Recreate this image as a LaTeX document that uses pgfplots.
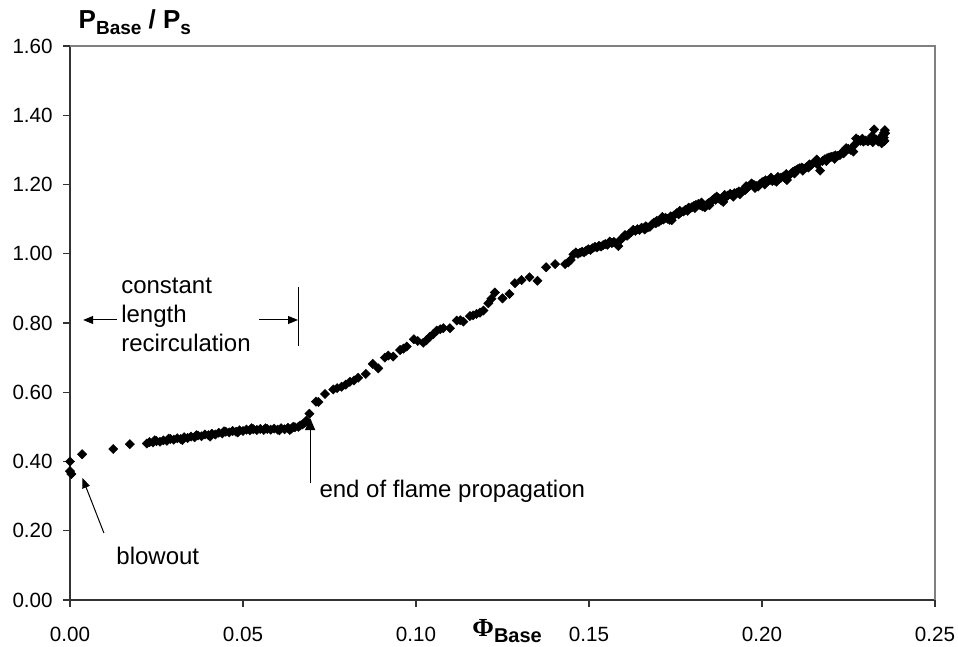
\documentclass[border=0pt]{standalone}
\usepackage{pgfplots}
\pgfplotsset{compat=1.18}
\usepackage{fontspec}
\setmainfont{Liberation Sans}
\newfontfamily\phifont{Liberation Serif}
\usetikzlibrary{arrows.meta}

\pgfplotstableread{
x y
0.0000 0.400
0.0000 0.372
0.0004 0.364
0.0035 0.421
0.0125 0.436
0.0173 0.450
0.0222 0.452
0.0230 0.456
0.0240 0.455
0.0245 0.461
0.0250 0.459
0.0260 0.457
0.0270 0.461
0.0280 0.460
0.0285 0.466
0.0290 0.465
0.0300 0.463
0.0310 0.467
0.0320 0.465
0.0325 0.462
0.0330 0.470
0.0340 0.468
0.0350 0.472
0.0360 0.470
0.0365 0.476
0.0370 0.475
0.0380 0.473
0.0390 0.478
0.0400 0.476
0.0405 0.472
0.0410 0.480
0.0420 0.478
0.0430 0.483
0.0440 0.481
0.0445 0.487
0.0450 0.486
0.0460 0.484
0.0470 0.488
0.0480 0.486
0.0485 0.484
0.0490 0.490
0.0500 0.488
0.0510 0.492
0.0520 0.490
0.0525 0.496
0.0530 0.493
0.0540 0.491
0.0550 0.494
0.0560 0.491
0.0565 0.496
0.0570 0.494
0.0580 0.492
0.0590 0.495
0.0600 0.492
0.0605 0.490
0.0610 0.496
0.0620 0.493
0.0630 0.497
0.0635 0.491
0.0640 0.495
0.0645 0.500
0.0650 0.499
0.0660 0.500
0.0665 0.504
0.0672 0.507
0.0678 0.512
0.0683 0.518
0.0692 0.538
0.0711 0.573
0.0718 0.572
0.0737 0.595
0.0761 0.608
0.0772 0.612
0.0785 0.616
0.0797 0.622
0.0809 0.630
0.0821 0.634
0.0833 0.642
0.0855 0.653
0.0875 0.682
0.0891 0.669
0.0910 0.700
0.0920 0.706
0.0934 0.703
0.0954 0.722
0.0964 0.726
0.0973 0.732
0.0994 0.753
0.1005 0.748
0.1021 0.743
0.1030 0.750
0.1040 0.760
0.1050 0.768
0.1060 0.778
0.1070 0.782
0.1079 0.785
0.1098 0.785
0.1118 0.807
0.1128 0.808
0.1137 0.804
0.1156 0.820
0.1165 0.822
0.1175 0.826
0.1185 0.830
0.1195 0.836
0.1209 0.857
0.1218 0.870
0.1228 0.888
0.1250 0.871
0.1270 0.884
0.1286 0.915
0.1305 0.924
0.1328 0.932
0.1351 0.922
0.1376 0.961
0.1402 0.970
0.1431 0.970
0.1440 0.975
0.1447 0.982
0.1455 0.998
0.1462 1.004
0.1468 1.000
0.1474 1.003
0.1480 1.006
0.1486 1.004
0.1492 1.009
0.1498 1.013
0.1504 1.011
0.1510 1.016
0.1517 1.020
0.1523 1.018
0.1529 1.023
0.1535 1.021
0.1541 1.025
0.1547 1.028
0.1553 1.026
0.1560 1.035
0.1566 1.031
0.1572 1.034
0.1578 1.030
0.1585 1.022
0.1591 1.040
0.1597 1.046
0.1604 1.054
0.1610 1.052
0.1616 1.058
0.1622 1.062
0.1628 1.069
0.1634 1.066
0.1640 1.071
0.1646 1.069
0.1652 1.075
0.1658 1.073
0.1661 1.070
0.1664 1.079
0.1670 1.076
0.1676 1.078
0.1682 1.085
0.1688 1.090
0.1693 1.088
0.1696 1.095
0.1702 1.092
0.1708 1.097
0.1712 1.106
0.1715 1.099
0.1721 1.104
0.1727 1.101
0.1733 1.098
0.1736 1.108
0.1739 1.097
0.1745 1.110
0.1753 1.117
0.1759 1.114
0.1762 1.124
0.1765 1.119
0.1773 1.122
0.1779 1.127
0.1785 1.124
0.1788 1.133
0.1791 1.131
0.1797 1.134
0.1803 1.138
0.1806 1.132
0.1809 1.141
0.1816 1.144
0.1822 1.140
0.1825 1.148
0.1828 1.137
0.1835 1.134
0.1840 1.142
0.1845 1.146
0.1848 1.140
0.1851 1.150
0.1857 1.155
0.1863 1.160
0.1866 1.156
0.1869 1.165
0.1875 1.160
0.1882 1.154
0.1888 1.150
0.1892 1.170
0.1894 1.162
0.1901 1.168
0.1908 1.173
0.1914 1.170
0.1917 1.165
0.1920 1.175
0.1927 1.176
0.1933 1.180
0.1936 1.172
0.1939 1.178
0.1945 1.183
0.1951 1.184
0.1954 1.195
0.1957 1.190
0.1964 1.196
0.1970 1.203
0.1976 1.199
0.1980 1.190
0.1983 1.196
0.1989 1.194
0.1995 1.202
0.2000 1.206
0.2004 1.208
0.2008 1.200
0.2010 1.212
0.2017 1.210
0.2023 1.213
0.2026 1.220
0.2030 1.210
0.2036 1.212
0.2042 1.208
0.2046 1.222
0.2049 1.216
0.2055 1.220
0.2062 1.223
0.2067 1.218
0.2070 1.230
0.2072 1.213
0.2078 1.226
0.2084 1.232
0.2090 1.237
0.2094 1.232
0.2096 1.240
0.2103 1.244
0.2109 1.247
0.2115 1.249
0.2118 1.240
0.2121 1.246
0.2128 1.250
0.2134 1.249
0.2137 1.258
0.2140 1.255
0.2146 1.260
0.2153 1.266
0.2158 1.272
0.2160 1.258
0.2168 1.240
0.2175 1.268
0.2182 1.273
0.2186 1.268
0.2188 1.276
0.2194 1.278
0.2200 1.280
0.2206 1.281
0.2210 1.274
0.2212 1.284
0.2219 1.283
0.2225 1.285
0.2231 1.292
0.2236 1.290
0.2237 1.298
0.2243 1.305
0.2249 1.303
0.2256 1.300
0.2264 1.295
0.2268 1.315
0.2272 1.333
0.2278 1.329
0.2285 1.326
0.2290 1.332
0.2293 1.324
0.2300 1.327
0.2306 1.325
0.2312 1.329
0.2318 1.340
0.2320 1.322
0.2324 1.359
0.2330 1.330
0.2336 1.324
0.2340 1.328
0.2344 1.336
0.2346 1.319
0.2350 1.343
0.2352 1.335
0.2353 1.350
0.2355 1.357
0.2356 1.348
0.2354 1.326
}\datatable

\begin{document}
\begin{tikzpicture}
\useasboundingbox (0,0) rectangle (479pt,323.5pt);
\begin{axis}[
  at={(35pt,23.5pt)}, anchor=south west,
  width=432.5pt, height=277pt, scale only axis,
  xmin=0, xmax=0.25, ymin=0, ymax=1.6,
  axis lines*=left,
  axis line style={black!80, line width=0.7pt},
  xtick={0,0.05,0.1,0.15,0.2,0.25},
  ytick={0,0.2,0.4,0.6,0.8,1.0,1.2,1.4,1.6},
  minor tick num=0,
  tick align=outside,
  major tick length=3.5pt,
  tick style={black!80, line width=0.7pt},
  scaled ticks=false,
  /pgf/number format/.cd, fixed, fixed zerofill, precision=2, assume math mode=true,
  /pgfplots/.cd,
  xticklabel style={font={\fontsize{10.3}{12}\selectfont}, inner sep=0pt, anchor=north, yshift=-10pt},
  yticklabel style={font={\fontsize{10.3}{12}\selectfont}, inner sep=0pt, anchor=east, xshift=-5pt},
  clip=false,
]
\draw[gray, line width=0.6pt] (rel axis cs:0,1) -- (rel axis cs:1,1) -- (rel axis cs:1,0);
\addplot[only marks, mark=square*, mark size=1.65pt, mark options={rotate=45, fill=black, draw=black, line width=0.2pt}] table[x=x,y=y] {\datatable};

% annotations
\node[anchor=base west, inner sep=0pt, font={\fontsize{12}{14}\selectfont}] at (axis cs:0.0147,0.8838) {constant};
\node[anchor=base west, inner sep=0pt, font={\fontsize{12}{14}\selectfont}] at (axis cs:0.0147,0.8000) {length};
\node[anchor=base west, inner sep=0pt, font={\fontsize{12}{14}\selectfont}] at (axis cs:0.0147,0.7191) {recirculation};
\draw[-{Triangle[length=5pt,width=4pt]}, line width=0.5pt] (axis cs:0.0136,0.8087) -- (axis cs:0.0038,0.8087);
\draw[-{Triangle[length=5pt,width=4pt]}, line width=0.5pt] (axis cs:0.0546,0.8087) -- (axis cs:0.0659,0.8087);
\draw[line width=0.5pt] (axis cs:0.0659,0.904) -- (axis cs:0.0659,0.7336);
\node[anchor=base west, inner sep=0pt, font={\fontsize{12}{14}\selectfont}] at (axis cs:0.0720,0.2946) {end of flame propagation};
\draw[-{Triangle[length=6pt,width=5pt]}, line width=0.5pt] (axis cs:0.0694,0.3379) -- (axis cs:0.0694,0.5256);
\node[anchor=base west, inner sep=0pt, font={\fontsize{12}{14}\selectfont}] at (axis cs:0.0133,0.1011) {blowout};
\draw[-{Triangle[length=5pt,width=4pt]}, line width=0.5pt] (axis cs:0.0098,0.1935) -- (axis cs:0.0036,0.3523);

% axis titles
\node[anchor=base west, inner sep=0pt, font={\fontsize{13}{15}\selectfont\bfseries}] at (axis cs:0.0024,1.651) {P\raisebox{-3.3pt}{\fontsize{9.5}{10}\selectfont Base} / P\raisebox{-3.3pt}{\fontsize{9.5}{10}\selectfont s}};
\node[anchor=base west, inner sep=0pt, font={\fontsize{12}{14}\selectfont\bfseries}] at (axis cs:0.1162,-0.1055) {{\phifont\fontsize{13}{14}\selectfont\bfseries Φ}\raisebox{-2.8pt}{\fontsize{10}{12}\selectfont Base}};
\end{axis}
\end{tikzpicture}
\end{document}
